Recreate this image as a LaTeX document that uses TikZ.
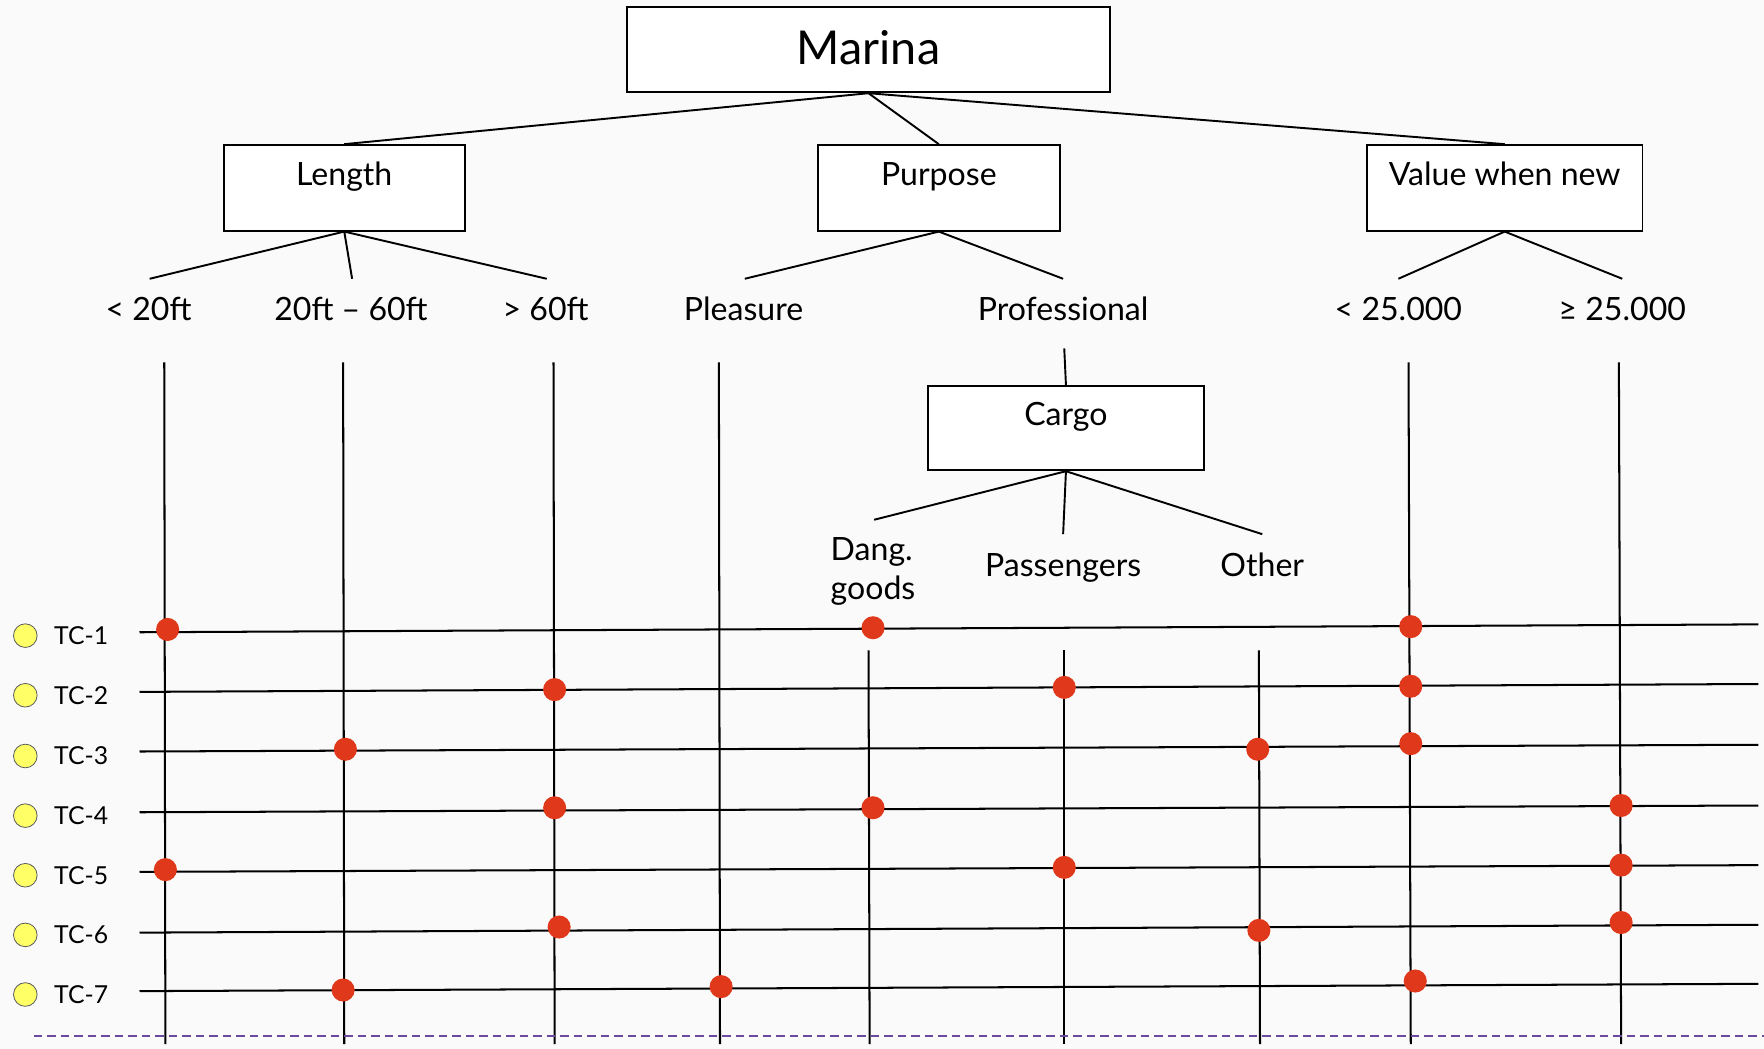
\documentclass[tikz,border=0pt]{standalone}
\usepackage{fontspec}
\setmainfont{Lato}
\definecolor{paper}{HTML}{FAFAFA}
\definecolor{hitred}{HTML}{E0381A}
\definecolor{tcyellow}{HTML}{FFFF66}
\definecolor{basepurple}{HTML}{6B4A9E}

\tikzset{
  catbox/.style={draw=black, line width=1.7pt, fill=white, inner sep=0pt},
  boxtext/.style={font=\fontsize{28.5}{34}\selectfont, inner sep=0pt,
                  text height=19pt, text depth=6pt},
  optlabel/.style={font=\fontsize{28.5}{34}\selectfont, inner sep=0pt,
                   text height=19pt, text depth=6pt, minimum height=61pt},
  branch/.style={line width=1.7pt},
  gridline/.style={line width=1.8pt},
  hit/.style={circle, fill=hitred, inner sep=0pt, minimum size=20.5pt},
  tcdot/.style={circle, draw=black!65, line width=0.7pt, fill=tcyellow,
                inner sep=0pt, minimum size=21pt},
  tclabel/.style={font=\fontsize{22}{26}\selectfont, inner sep=0pt, anchor=west},
}

\begin{document}
\begin{tikzpicture}[x=1pt, y=-1pt]
  % page
  \fill[paper] (0,0) rectangle (1568,932);
  \useasboundingbox (0,0) rectangle (1568,932);

  % classification tree: root and categories
  \node[catbox, minimum width=430pt, minimum height=76pt,
        label={[font=\fontsize{41.5}{48}\selectfont, inner sep=0pt,
                text height=28pt, text depth=0pt, yshift=1pt]center:Marina}]
        (marina) at (772,44) {};
  \node[catbox, minimum width=214pt, minimum height=76pt,
        label={[boxtext, yshift=9pt]center:Length}] (len) at (306,167) {};
  \node[catbox, minimum width=215pt, minimum height=76pt,
        label={[boxtext, yshift=9pt]center:Purpose}] (purp) at (834.5,167) {};
  \node[catbox, minimum width=245pt, minimum height=76pt,
        label={[boxtext, yshift=9pt]center:Value when new}] (val) at (1337.5,167) {};

  % classes
  \node[optlabel] (lt20) at (132,278.5) {< 20ft};
  \node[optlabel] (mid) at (312,278.5) {20ft -- 60ft};
  \node[optlabel] (gt60) at (485,278.5) {> 60ft};
  \node[optlabel] (pleas) at (661,278.5) {Pleasure};
  \node[optlabel] (prof) at (945,278.5) {Professional};
  \node[optlabel] (vlow) at (1243,278.5) {< 25.000};
  \node[optlabel] (vhigh) at (1442,278.5) {≥ 25.000};

  % sub-category of Professional
  \node[catbox, minimum width=245pt, minimum height=75pt,
        label={[boxtext, yshift=8.5pt]center:Cargo}] (cargo) at (947.5,380.5) {};
  \node[font=\fontsize{28.5}{34}\selectfont, inner sep=0pt, align=left,
        anchor=north] (dang) at (776,478) {Dang.\\goods};
  \node[optlabel] (pass) at (945,505.5) {Passengers};
  \node[optlabel] (other) at (1122,505.5) {Other};

  % tree branches
  \draw[branch] (marina.south) -- (len.north);
  \draw[branch] (marina.south) -- (purp.north);
  \draw[branch] (marina.south) -- (val.north);
  \draw[branch] (len.south) -- ([xshift=1pt]lt20.north);
  \draw[branch] (len.south) -- ([xshift=1pt]mid.north);
  \draw[branch] (len.south) -- ([xshift=1pt]gt60.north);
  \draw[branch] (purp.south) -- ([xshift=1pt]pleas.north);
  \draw[branch] (purp.south) -- (prof.north);
  \draw[branch] (val.south) -- (vlow.north);
  \draw[branch] (val.south) -- (vhigh.north);
  \draw[branch] ([xshift=1pt,yshift=-0.5pt]prof.south) -- (cargo.north);
  \draw[branch] (cargo.south) -- ([xshift=1pt,yshift=16pt]dang.north);
  \draw[branch] (cargo.south) -- (pass.north);
  \draw[branch] (cargo.south) -- (other.north);

  % columns, one per class
  \coordinate (c1t) at (146,322);  \coordinate (c1b) at (147,928);
  \coordinate (c2t) at (305,322);  \coordinate (c2b) at (306,928);
  \coordinate (c3t) at (492,322);  \coordinate (c3b) at (493,928);
  \coordinate (c4t) at (639,322);  \coordinate (c4b) at (640,928);
  \coordinate (c5t) at (772,578);  \coordinate (c5b) at (773,928);
  \coordinate (c6t) at (946,578);  \coordinate (c6b) at (946,928);
  \coordinate (c7t) at (1119,578); \coordinate (c7b) at (1120,928);
  \coordinate (c8t) at (1252,322); \coordinate (c8b) at (1254,928);
  \coordinate (c9t) at (1439,322); \coordinate (c9b) at (1441,928);
  \foreach \c in {1,...,9} {\draw[gridline] (c\c t) -- (c\c b);}

  % test case rows
  \foreach \r/\yl/\yr in {1/562/555, 2/615/608, 3/668/662, 4/722/716,
                          5/775/769, 6/829/822, 7/881/874.5} {
    \coordinate (r\r l) at (124,\yl);
    \coordinate (r\r r) at (1563,\yr);
    \draw[gridline] (r\r l) -- (r\r r);
  }

  % test case markers and names
  \foreach \r/\y in {1/565, 2/618, 3/672, 4/725, 5/778, 6/831, 7/884} {
    \node[tcdot] (tc\r) at (22.5,\y) {};
    \node[tclabel] (tcname\r) at (48,\y) {TC-\r};
  }

  % base line
  \coordinate (basel) at (30,920.5);
  \coordinate (baser) at (1568,920.5);
  \draw[basepurple, line width=1.8pt, dash pattern=on 7.5pt off 4.5pt] (basel) -- (baser);

  % selected classes per test case
  \node[hit] (h1a) at (149,559.5) {};
  \node[hit] (h1b) at (776,558) {};
  \node[hit] (h1c) at (1254,557) {};
  \node[hit] (h2a) at (493,613) {};
  \node[hit] (h2b) at (946,611) {};
  \node[hit] (h2c) at (1254,610) {};
  \node[hit] (h3a) at (307,666) {};
  \node[hit] (h3b) at (1118,666) {};
  \node[hit] (h3c) at (1254,661) {};
  \node[hit] (h4a) at (493,718) {};
  \node[hit] (h4b) at (776,718) {};
  \node[hit] (h4c) at (1441,716) {};
  \node[hit] (h5a) at (147,773) {};
  \node[hit] (h5b) at (946,771) {};
  \node[hit] (h5c) at (1441,769) {};
  \node[hit] (h6a) at (497,824) {};
  \node[hit] (h6b) at (1119,827) {};
  \node[hit] (h6c) at (1441,820) {};
  \node[hit] (h7a) at (305,880) {};
  \node[hit] (h7b) at (641,877) {};
  \node[hit] (h7c) at (1258,872) {};
\end{tikzpicture}
\end{document}
